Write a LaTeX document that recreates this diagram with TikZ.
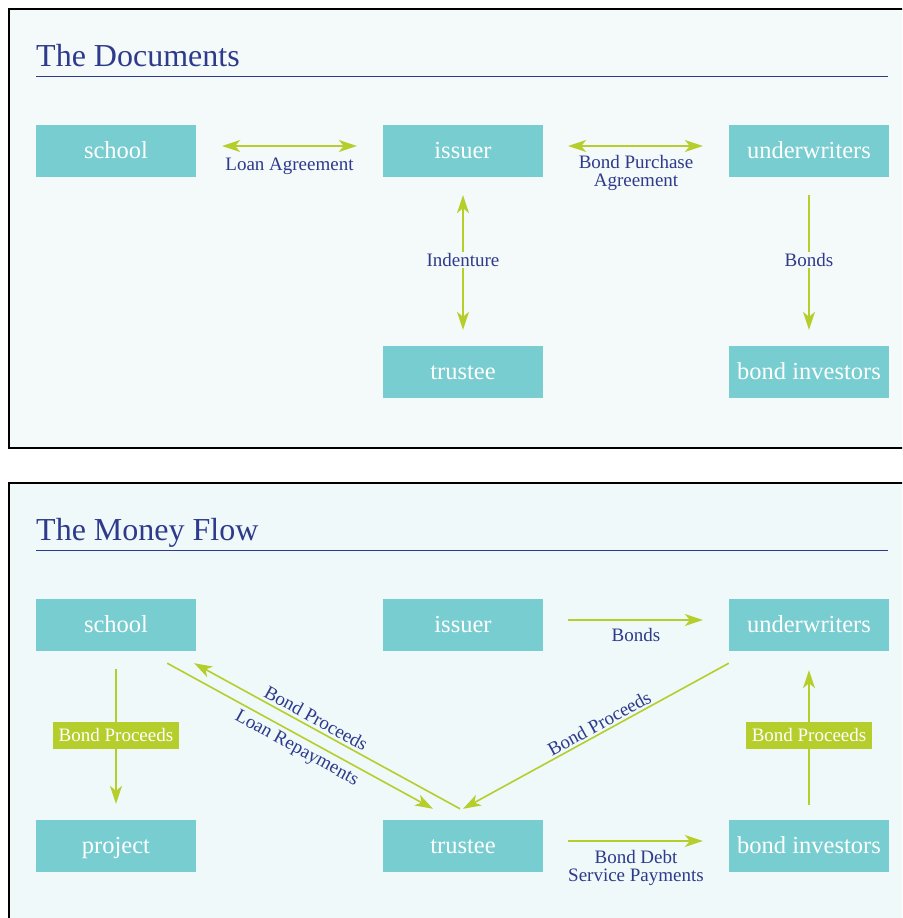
\documentclass[tikz,border=0pt]{standalone}
\usepackage{fontspec}
\setmainfont{Liberation Serif}
\usetikzlibrary{arrows.meta}
\definecolor{boxc}{HTML}{78CDD0}
\definecolor{grn}{HTML}{B5CE2C}
\definecolor{navy}{HTML}{2E3A8C}
\definecolor{bgtop}{HTML}{F4F9F9}
\definecolor{bgbot}{HTML}{EFF9F9}
\tikzset{
  gtip/.tip={Stealth[length=18pt,width=12pt,inset=5pt]},
  box/.style={fill=boxc, minimum width=160pt, minimum height=52pt, inner sep=0pt,
    text=white, font=\fontsize{24.5}{24.5}\selectfont, text height=17pt, text depth=3pt},
  conn/.style={draw=grn, line width=1.6pt, -gtip},
  dconn/.style={draw=grn, line width=1.6pt, gtip-gtip},
  lbl/.style={text=navy, font=\fontsize{19}{17.5}\selectfont, align=center, inner sep=1pt},
  glbl/.style={fill=grn, text=white, font=\fontsize{19}{19}\selectfont, inner xsep=6pt,
    inner ysep=6.5pt, text height=13pt, text depth=1pt},
  ttl/.style={text=navy, font=\fontsize{32}{32}\selectfont, anchor=base west, inner sep=0pt},
  rulel/.style={draw=navy, line width=1pt},
  panel/.style={draw=black, line width=1.2pt}
}
\begin{document}
\begin{tikzpicture}[x=1pt,y=-1pt]
\useasboundingbox (0,0) rectangle (902,918);
\begin{scope}
\clip (0,0) rectangle (902,918);
\fill[white] (0,0) rectangle (902,918);
\draw[panel, fill=bgtop] (9,9) rectangle (930,448);
\draw[panel, fill=bgbot] (9,483) rectangle (930,950);
\end{scope}

% ---------- The Documents ----------
\node[ttl] (t1) at (36,66) {The Documents};
\coordinate (r1a) at (36,76);
\coordinate (r1b) at (888,76);
\draw[rulel] (r1a) -- (r1b);

\node[box] (school) at (116,151) {school};
\node[box] (issuer) at (463,151) {issuer};
\node[box] (under) at (809,151) {underwriters};
\node[box] (trustee) at (463,372) {trustee};
\node[box] (inv) at (809,372) {bond investors};

\draw[dconn, shorten <=26pt, shorten >=26pt] ([yshift=5pt]school.east) --
  node[lbl, anchor=base, yshift=-24pt] {Loan Agreement} ([yshift=5pt]issuer.west);
\draw[dconn, shorten <=25pt, shorten >=26pt] ([yshift=5pt]issuer.east) --
  node[lbl, yshift=-27pt] {Bond Purchase\\Agreement} ([yshift=5pt]under.west);
\draw[dconn, shorten <=18pt, shorten >=16pt] (issuer.south) --
  node[lbl, fill=bgtop, yshift=1.5pt] {Indenture} (trustee.north);
\draw[conn, shorten <=18pt, shorten >=16pt] (under.south) --
  node[lbl, fill=bgtop, yshift=1.5pt] {Bonds} (inv.north);

% ---------- The Money Flow ----------
\node[ttl] (t2) at (36,540) {The Money Flow};
\coordinate (r2a) at (36,550);
\coordinate (r2b) at (888,550);
\draw[rulel] (r2a) -- (r2b);

\node[box] (school2) at (116,625) {school};
\node[box] (issuer2) at (463,625) {issuer};
\node[box] (under2) at (809,625) {underwriters};
\node[box] (project) at (116,846) {project};
\node[box] (trustee2) at (463,846) {trustee};
\node[box] (inv2) at (809,846) {bond investors};

\draw[conn, shorten <=25pt, shorten >=26pt] ([yshift=5pt]issuer2.east) --
  node[lbl, anchor=base, yshift=-21.5pt] {Bonds} ([yshift=5pt]under2.west);
\draw[conn, shorten <=25pt, shorten >=26pt] ([yshift=5pt]trustee2.east) --
  node[lbl, yshift=-27pt] {Bond Debt\\Service Payments} ([yshift=5pt]inv2.west);
\draw[conn, shorten <=18pt, shorten >=16pt] (school2.south) --
  node[glbl] {Bond Proceeds} (project.north);
\draw[conn, shorten <=15pt, shorten >=19pt] (inv2.north) --
  node[glbl] {Bond Proceeds} (under2.south);

\draw[conn] ([shift={(-3,-11)}]trustee2.north) --
  node[lbl, pos=0.56, sloped, above=2pt] {Bond Proceeds} ([shift={(-2,12)}]school2.south east);
\draw[conn] ([shift={(-29,12)}]school2.south east) --
  node[lbl, pos=0.51, sloped, below=3pt] {Loan Repayments} ([shift={(-30,-11)}]trustee2.north);
\draw[conn] ([shift={(0,12)}]under2.south west) --
  node[lbl, pos=0.47, sloped, above=1pt] {Bond Proceeds} ([shift={(0,-11)}]trustee2.north);
\end{tikzpicture}
\end{document}
